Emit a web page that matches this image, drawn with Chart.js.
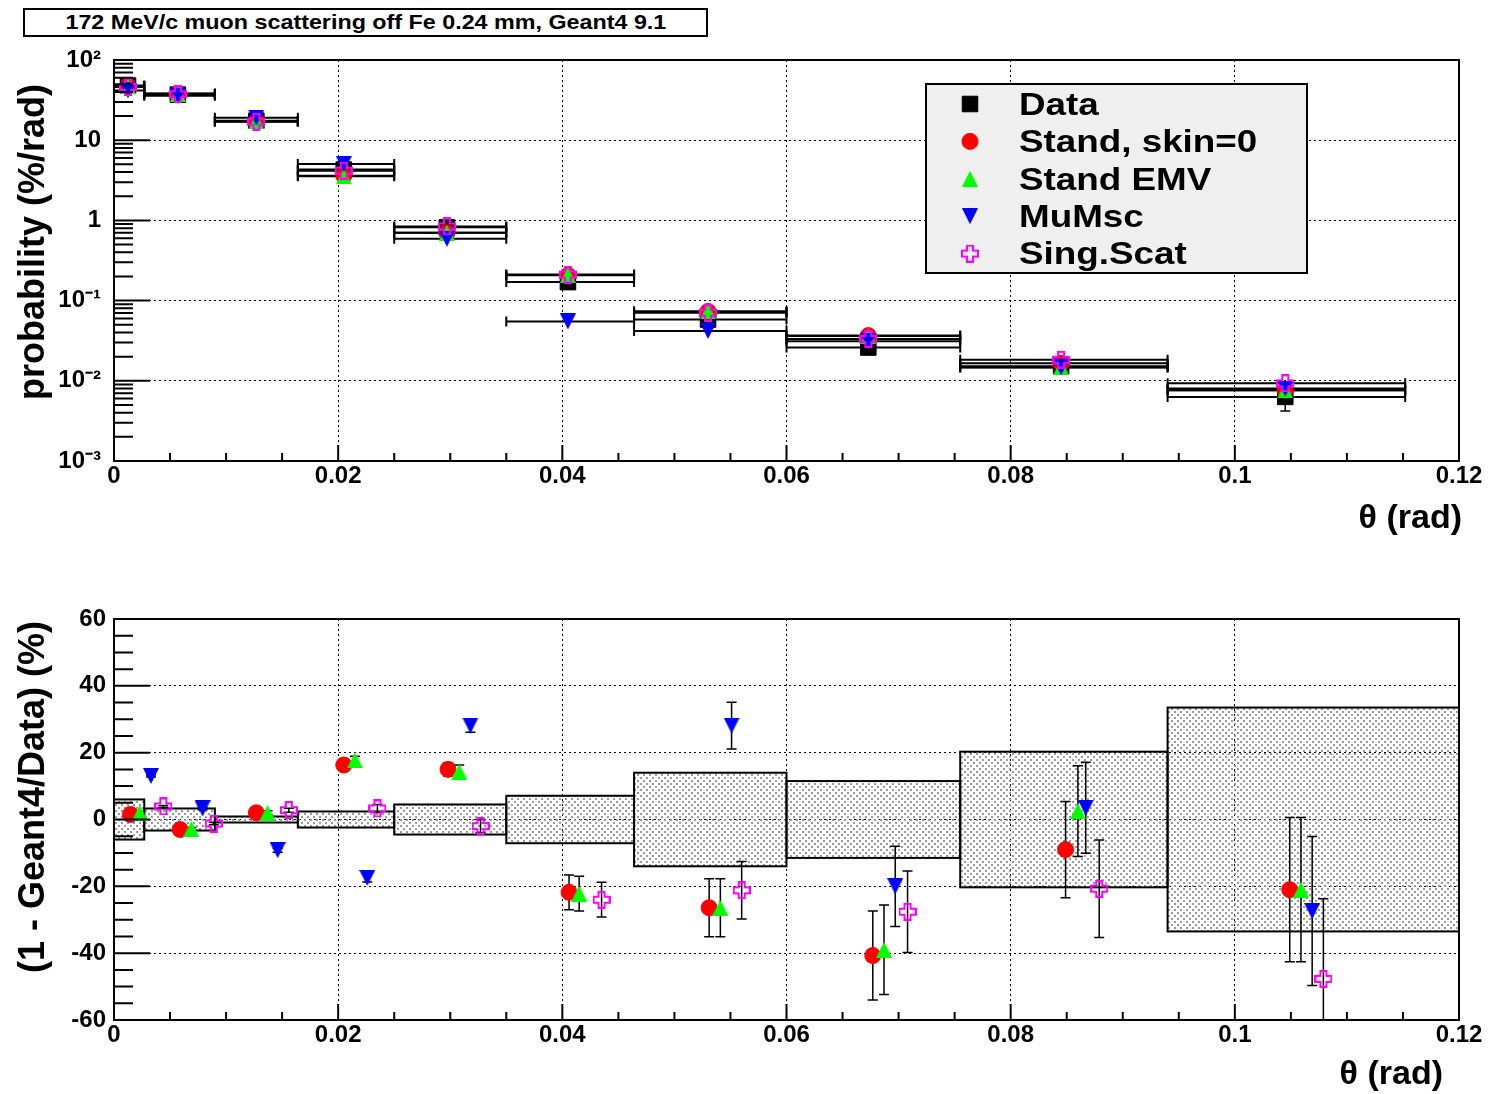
<!DOCTYPE html>
<html>
<head>
<meta charset="utf-8">
<script src="https://cdn.jsdelivr.net/npm/chart.js@4"></script>
<style>
  body { margin: 0; background: #fff; width: 1494px; height: 1094px; position: relative; overflow: hidden;
         font-family: 'Liberation Sans', Arial, Helvetica, sans-serif; font-weight: bold; color: #000; }
  canvas { position: absolute; left: 0; }
  #probChart { top: 0; }
  #ratioChart { top: 545px; }
  .titlebox { position: absolute; left: 23px; top: 8px; width: 681px; height: 25px; border: 2px solid #000;
              text-align: center; line-height: 25px; font-size: 20px; background: #fff; }
  .titlebox span { display: inline-block; transform: scaleX(1.165); }
  .ytitle { position: absolute; font-size: 36px; line-height: 1; white-space: nowrap;
            transform: translate(-50%, -50%) rotate(-90deg); }
  .xtitle { position: absolute; font-size: 34px; line-height: 34px; white-space: nowrap; }
</style>
</head>
<body>
<canvas id="probChart" width="1494" height="545"></canvas>
<canvas id="ratioChart" width="1494" height="549"></canvas>
<div class="titlebox"><span>172 MeV/c muon scattering off Fe 0.24 mm, Geant4 9.1</span></div>
<div class="ytitle" style="left:32px; top:242px;">probability (%/rad)</div>
<div class="xtitle" style="right:32px; top:499px;">θ (rad)</div>
<div class="ytitle" style="left:32px; top:797px;">(1 - Geant4/Data) (%)</div>
<div class="xtitle" style="right:51px; top:1055px;">θ (rad)</div>
<script>
// ---- data ----
const binEdges = [0, 0.0027, 0.009, 0.0164, 0.025, 0.035, 0.0464, 0.06, 0.0755, 0.094, 0.1152];
const thetaCenters = [0.00125, 0.0057, 0.0127, 0.0205, 0.0297, 0.0405, 0.053, 0.0673, 0.0845, 0.1045];

const probData     = [48, 37, 17.5, 4.3, 0.82, 0.17, 0.058, 0.026, 0.0152, 0.0063];
const probDataErr  = [2.9, 1.2, 0.16, 0.1, 0.037, 0.012, 0.008, 0.003, 0.0031, 0.0021];
const probStand    = [47.3, 38.1, 17.2, 3.6, 0.70, 0.207, 0.0733, 0.0366, 0.0166, 0.0076];
const probEMV      = [47.0, 38.0, 17.2, 3.54, 0.70, 0.208, 0.0733, 0.0361, 0.0148, 0.0076];
const probMuMsc    = [41.8, 35.8, 19.1, 5.05, 0.59, 0.055, 0.0418, 0.0312, 0.0147, 0.0080];
const probSingScat = [46.1, 37.4, 17.0, 4.16, 0.84, 0.211, 0.0703, 0.0332, 0.0183, 0.0093];

const bandEdges = [0, 0.0027, 0.009, 0.0164, 0.025, 0.035, 0.0464, 0.06, 0.0755, 0.094, 0.12];
const bandHalf  = [6, 3.3, 0.9, 2.4, 4.5, 7.1, 14, 11.5, 20.3, 33.5];

const xStand     = [0.00147, 0.0059, 0.0127, 0.0205, 0.0298, 0.0406, 0.0531, 0.0677, 0.0849, 0.1049];
const ratioStand = [1.5, -3, 2, 16.3, 15, -21.8, -26.4, -40.7, -9, -21];
const errStand   = [0.3, 0.4, 0.6, 1.2, 2, 5.2, 8.7, 13.3, 14.4, 21.6];

const xEMV     = [0.0023, 0.0069, 0.0137, 0.0215, 0.0308, 0.0415, 0.0541, 0.0687, 0.086, 0.1059];
const ratioEMV = [2, -2.8, 2, 17.7, 14.3, -22.2, -26.4, -39, 2.5, -21];
const errEMV   = [0.3, 0.4, 0.6, 1.2, 2, 5.2, 8.7, 13.4, 13.6, 21.6];

const xMuMsc     = [0.0033, 0.0079, 0.0146, 0.0226, 0.0318, 0.0425, 0.0551, 0.0697, 0.0867, 0.1069];
const ratioMuMsc = [13, 3.3, -9.2, -17.5, 28.1, 68, 28.1, -20, 3.5, -27.4];
const errMuMsc   = [0.3, 0.4, 0.6, 1.2, 2, 3, 7, 12, 13.6, 22.3];

const xSing     = [0.0044, 0.0089, 0.0156, 0.0235, 0.0327, 0.0435, 0.056, 0.0708, 0.0879, 0.1079];
const ratioSing = [3.9, -1.2, 2.8, 3.3, -2, -24, -21.2, -27.6, -20.7, -47.7];
const errSing   = [0.3, 0.4, 0.6, 1.2, 2, 5.2, 8.6, 12.2, 14.6, 24];

const xTicks = [0, 0.02, 0.04, 0.06, 0.08, 0.1, 0.12];
const xTickLabels = ['0', '0.02', '0.04', '0.06', '0.08', '0.1', '0.12'];
const probTicks = [0.001, 0.01, 0.1, 1, 10, 100];
const probTickLabels = ['10\u207B\u00B3', '10\u207B\u00B2', '10\u207B\u00B9', '1', '10', '10\u00B2'];
const ratioTicks = [-60, -40, -20, 0, 20, 40, 60];
const ratioTickLabels = ['-60', '-40', '-20', '0', '20', '40', '60'];

const FONT = "'Liberation Sans', Arial, Helvetica, sans-serif";

// ROOT-like marker shapes
function marker(kind, color, size) {
  const c = document.createElement('canvas');
  c.width = size; c.height = size;
  const g = c.getContext('2d');
  g.fillStyle = color; g.strokeStyle = color;
  g.beginPath();
  if (kind === 'up') {
    g.moveTo(size / 2, 0); g.lineTo(size, size); g.lineTo(0, size); g.closePath(); g.fill();
  } else if (kind === 'down') {
    g.moveTo(0, 0); g.lineTo(size, 0); g.lineTo(size / 2, size); g.closePath(); g.fill();
  } else {
    const a = size / 3, b = 2 * size / 3, o = 1, e = size - 1;
    g.lineWidth = 2;
    g.moveTo(a, o); g.lineTo(b, o); g.lineTo(b, a); g.lineTo(e, a); g.lineTo(e, b); g.lineTo(b, b);
    g.lineTo(b, e); g.lineTo(a, e); g.lineTo(a, b); g.lineTo(o, b); g.lineTo(o, a); g.lineTo(a, a);
    g.closePath(); g.stroke();
  }
  return c;
}

const series = [
  { label: 'Data',          color: '#000000', style: 'rect',   radius: 11 },
  { label: 'Stand, skin=0', color: '#ff0000', style: 'circle', radius: 8 },
  { label: 'Stand EMV',     color: '#00ff00', style: marker('up', '#00ff00', 16), radius: 8 },
  { label: 'MuMsc',         color: '#0000ff', style: marker('down', '#0000ff', 16), radius: 8 },
  { label: 'Sing.Scat',     color: '#ff00ff', style: marker('cross', '#ff00ff', 18), radius: 8 }
];

function pts(xs, ys) { return xs.map((x, i) => ({ x: x, y: ys[i] })); }

function dataset(s, k, data, extra) {
  return Object.assign({
    label: s.label, data: data, showLine: false,
    pointStyle: s.style, pointRadius: s.radius, pointHoverRadius: s.radius,
    backgroundColor: s.color, borderColor: s.color, borderWidth: 1,
    order: 10 - k, clip: 2
  }, extra);
}

function gridColor(ends) {
  return c => (c.tick && ends.includes(c.tick.value)) ? 'rgba(0,0,0,0)' : '#000';
}
const tickFont = { family: FONT, size: 24, weight: 'bold' };

function xScale(h) {
  return {
    type: 'linear', min: 0, max: 0.12,
    afterBuildTicks: s => { s.ticks = xTicks.map(v => ({ value: v })); },
    afterFit: s => { s.height = h; },
    grid: { color: gridColor([0, 0.12]), lineWidth: 1, drawTicks: false },
    border: { display: false, dash: [2, 3] },
    ticks: { autoSkip: false, maxRotation: 0, padding: 1, color: '#000', font: tickFont,
             callback: (v, i) => xTickLabels[i] }
  };
}

// frame and inward ticks, ROOT style
const rootFrame = {
  id: 'rootFrame',
  afterDraw(chart, args, opts) {
    const { ctx, chartArea: a, scales: { x, y } } = chart;
    ctx.save();
    ctx.strokeStyle = '#000';
    ctx.lineWidth = 2;
    ctx.strokeRect(a.left, a.top, a.right - a.left, a.bottom - a.top);
    ctx.beginPath();
    for (let k = 0; k <= 24; k++) {
      const px = x.getPixelForValue(k * 0.005);
      ctx.moveTo(px, a.bottom); ctx.lineTo(px, a.bottom - (k % 4 === 0 ? 16 : 8));
    }
    if (opts.log) {
      for (let e = -3; e <= 2; e++) {
        for (let m = 1; m <= 9; m++) {
          const v = m * Math.pow(10, e);
          if (v > 100.0001) break;
          const py = y.getPixelForValue(v);
          ctx.moveTo(a.left, py); ctx.lineTo(a.left + (m === 1 ? 36 : 19), py);
        }
      }
    } else {
      for (let v = -60; v <= 60; v += 5) {
        const py = y.getPixelForValue(v);
        ctx.moveTo(a.left, py); ctx.lineTo(a.left + (v % 20 === 0 ? 36 : 19), py);
      }
    }
    ctx.stroke();
    ctx.restore();
  }
};

// horizontal bin bars + vertical errors
const errorBars = {
  id: 'errorBars',
  beforeDatasetsDraw(chart, args, opts) {
    const { ctx, chartArea: a, scales: { x, y } } = chart;
    ctx.save();
    ctx.beginPath(); ctx.rect(a.left, a.top, a.right - a.left, a.bottom - a.top); ctx.clip();
    if (opts.bands) {
      const tile = document.createElement('canvas');
      tile.width = 6; tile.height = 6;
      const tg = tile.getContext('2d');
      tg.fillStyle = '#9a9a9a';
      tg.fillRect(1, 1, 2, 2); tg.fillRect(4, 4, 2, 2);
      const pat = ctx.createPattern(tile, 'repeat');
      bandHalf.forEach((h, i) => {
        const x0 = x.getPixelForValue(bandEdges[i]), x1 = x.getPixelForValue(bandEdges[i + 1]);
        const y0 = y.getPixelForValue(h), y1 = y.getPixelForValue(-h);
        ctx.fillStyle = pat;
        ctx.fillRect(x0, y0, x1 - x0, y1 - y0);
        ctx.lineWidth = 2; ctx.strokeStyle = '#000';
        ctx.strokeRect(x0, y0, x1 - x0, y1 - y0);
      });
    }
    ctx.strokeStyle = '#000';
    chart.data.datasets.forEach(ds => {
      ds.data.forEach((p, i) => {
        const px = x.getPixelForValue(p.x), py = y.getPixelForValue(p.y);
        ctx.beginPath();
        if (opts.binBars) {
          ctx.lineWidth = 2;
          const x0 = x.getPixelForValue(binEdges[i]), x1 = x.getPixelForValue(binEdges[i + 1]);
          ctx.moveTo(x0, py); ctx.lineTo(x1, py);
          ctx.moveTo(x0, py - 5); ctx.lineTo(x0, py + 5);
          ctx.moveTo(x1, py - 5); ctx.lineTo(x1, py + 5);
        }
        ctx.stroke();
        if (ds.yErr) {
          const yt = y.getPixelForValue(p.y + ds.yErr[i]), yb = y.getPixelForValue(p.y - ds.yErr[i]);
          ctx.beginPath();
          ctx.lineWidth = 1.5;
          ctx.moveTo(px, yt); ctx.lineTo(px, yb);
          ctx.moveTo(px - 5, yt); ctx.lineTo(px + 5, yt);
          ctx.moveTo(px - 5, yb); ctx.lineTo(px + 5, yb);
          ctx.stroke();
        }
      });
    });
    ctx.restore();
  }
};

// boxed legend
const boxLegend = {
  id: 'boxLegend',
  afterDraw(chart) {
    const ctx = chart.ctx;
    ctx.save();
    ctx.fillStyle = '#efefef';
    ctx.fillRect(926, 84, 381, 189);
    ctx.lineWidth = 2; ctx.strokeStyle = '#000';
    ctx.strokeRect(926, 84, 381, 189);
    chart.data.datasets.forEach((ds, i) => {
      const ry = 104 + i * 37.4;
      ctx.fillStyle = ds.backgroundColor; ctx.strokeStyle = ds.borderColor; ctx.lineWidth = 1;
      Chart.helpers.drawPoint(ctx, { pointStyle: ds.pointStyle, radius: ds.pointRadius, rotation: 0, borderWidth: 1 }, 970, ry);
      ctx.save();
      ctx.translate(1019, ry + 2);
      ctx.scale(1.15, 1);
      ctx.fillStyle = '#000';
      ctx.font = 'bold 32px ' + FONT;
      ctx.textBaseline = 'middle';
      ctx.fillText(ds.label, 0, 0);
      ctx.restore();
    });
    ctx.restore();
  }
};

const common = {
  responsive: false, animation: false, devicePixelRatio: 1,
  events: []
};

new Chart(document.getElementById('probChart'), {
  type: 'scatter',
  data: {
    datasets: [
      dataset(series[0], 0, pts(thetaCenters, probData), { yErr: probDataErr }),
      dataset(series[1], 1, pts(thetaCenters, probStand)),
      dataset(series[2], 2, pts(thetaCenters, probEMV)),
      dataset(series[3], 3, pts(thetaCenters, probMuMsc)),
      dataset(series[4], 4, pts(thetaCenters, probSingScat))
    ]
  },
  options: Object.assign({}, common, {
    layout: { padding: { top: 60, right: 35, left: 0, bottom: 0 } },
    scales: {
      x: xScale(84),
      y: {
        type: 'logarithmic', min: 0.001, max: 100,
        afterBuildTicks: s => { s.ticks = probTicks.map(v => ({ value: v })); },
        afterFit: s => { s.width = 114; },
        grid: { color: gridColor([0.001, 100]), lineWidth: 1, drawTicks: false },
        border: { display: false, dash: [2, 3] },
        ticks: { autoSkip: false, padding: 13, color: '#000', font: tickFont,
                 callback: (v, i) => probTickLabels[i] }
      }
    },
    plugins: {
      legend: { display: false }, tooltip: { enabled: false },
      rootFrame: { log: true },
      errorBars: { binBars: true, bands: false }
    }
  }),
  plugins: [errorBars, rootFrame, boxLegend]
});

new Chart(document.getElementById('ratioChart'), {
  type: 'scatter',
  data: {
    datasets: [
      dataset(series[1], 1, pts(xStand, ratioStand), { yErr: errStand }),
      dataset(series[2], 2, pts(xEMV, ratioEMV), { yErr: errEMV }),
      dataset(series[3], 3, pts(xMuMsc, ratioMuMsc), { yErr: errMuMsc }),
      dataset(series[4], 4, pts(xSing, ratioSing), { yErr: errSing })
    ]
  },
  options: Object.assign({}, common, {
    layout: { padding: { top: 74, right: 35, left: 0, bottom: 0 } },
    scales: {
      x: xScale(74),
      y: {
        type: 'linear', min: -60, max: 60,
        afterBuildTicks: s => { s.ticks = ratioTicks.map(v => ({ value: v })); },
        afterFit: s => { s.width = 114; },
        grid: { color: gridColor([-60, 60]), lineWidth: 1, drawTicks: false },
        border: { display: false, dash: [2, 3] },
        ticks: { autoSkip: false, padding: 8, color: '#000', font: tickFont,
                 callback: (v, i) => ratioTickLabels[i] }
      }
    },
    plugins: {
      legend: { display: false }, tooltip: { enabled: false },
      rootFrame: { log: false },
      errorBars: { binBars: false, bands: true }
    }
  }),
  plugins: [errorBars, rootFrame]
});
</script>
</body>
</html>
